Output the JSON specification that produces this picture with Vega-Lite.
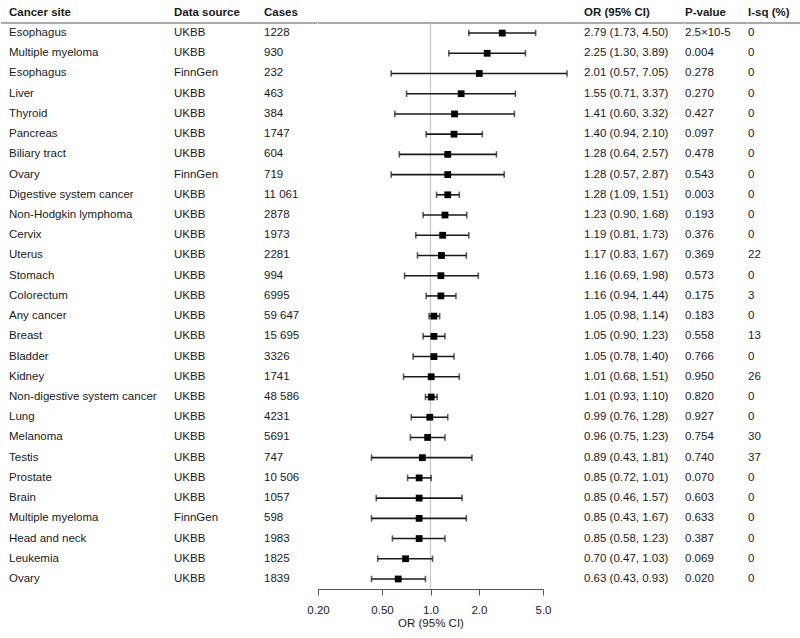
{
  "$schema": "https://vega.github.io/schema/vega-lite/v6.json",
  "padding": {"left": 0, "right": 0, "top": 0, "bottom": 0},
  "spacing": 0,
  "bounds": "flush",
  "config": {
    "view": {"stroke": null},
    "font": "Liberation Sans",
    "text": {"font": "Liberation Sans", "fontSize": 11.5, "color": "#1a1a1a"},
    "axis": {"labelFont": "Liberation Sans", "titleFont": "Liberation Sans"}
  },
  "datasets": {
    "rows": [
      {"row": 1, "site": "Esophagus", "source": "UKBB", "cases": "1228", "or": 2.79, "lo": 1.73, "hi": 4.50, "est": "2.79 (1.73, 4.50)", "pval": "2.5×10-5", "isq": 0},
      {"row": 2, "site": "Multiple myeloma", "source": "UKBB", "cases": "930", "or": 2.25, "lo": 1.30, "hi": 3.89, "est": "2.25 (1.30, 3.89)", "pval": "0.004", "isq": 0},
      {"row": 3, "site": "Esophagus", "source": "FinnGen", "cases": "232", "or": 2.01, "lo": 0.57, "hi": 7.05, "est": "2.01 (0.57, 7.05)", "pval": "0.278", "isq": 0},
      {"row": 4, "site": "Liver", "source": "UKBB", "cases": "463", "or": 1.55, "lo": 0.71, "hi": 3.37, "est": "1.55 (0.71, 3.37)", "pval": "0.270", "isq": 0},
      {"row": 5, "site": "Thyroid", "source": "UKBB", "cases": "384", "or": 1.41, "lo": 0.60, "hi": 3.32, "est": "1.41 (0.60, 3.32)", "pval": "0.427", "isq": 0},
      {"row": 6, "site": "Pancreas", "source": "UKBB", "cases": "1747", "or": 1.40, "lo": 0.94, "hi": 2.10, "est": "1.40 (0.94, 2.10)", "pval": "0.097", "isq": 0},
      {"row": 7, "site": "Biliary tract", "source": "UKBB", "cases": "604", "or": 1.28, "lo": 0.64, "hi": 2.57, "est": "1.28 (0.64, 2.57)", "pval": "0.478", "isq": 0},
      {"row": 8, "site": "Ovary", "source": "FinnGen", "cases": "719", "or": 1.28, "lo": 0.57, "hi": 2.87, "est": "1.28 (0.57, 2.87)", "pval": "0.543", "isq": 0},
      {"row": 9, "site": "Digestive system cancer", "source": "UKBB", "cases": "11 061", "or": 1.28, "lo": 1.09, "hi": 1.51, "est": "1.28 (1.09, 1.51)", "pval": "0.003", "isq": 0},
      {"row": 10, "site": "Non-Hodgkin lymphoma", "source": "UKBB", "cases": "2878", "or": 1.23, "lo": 0.90, "hi": 1.68, "est": "1.23 (0.90, 1.68)", "pval": "0.193", "isq": 0},
      {"row": 11, "site": "Cervix", "source": "UKBB", "cases": "1973", "or": 1.19, "lo": 0.81, "hi": 1.73, "est": "1.19 (0.81, 1.73)", "pval": "0.376", "isq": 0},
      {"row": 12, "site": "Uterus", "source": "UKBB", "cases": "2281", "or": 1.17, "lo": 0.83, "hi": 1.67, "est": "1.17 (0.83, 1.67)", "pval": "0.369", "isq": 22},
      {"row": 13, "site": "Stomach", "source": "UKBB", "cases": "994", "or": 1.16, "lo": 0.69, "hi": 1.98, "est": "1.16 (0.69, 1.98)", "pval": "0.573", "isq": 0},
      {"row": 14, "site": "Colorectum", "source": "UKBB", "cases": "6995", "or": 1.16, "lo": 0.94, "hi": 1.44, "est": "1.16 (0.94, 1.44)", "pval": "0.175", "isq": 3},
      {"row": 15, "site": "Any cancer", "source": "UKBB", "cases": "59 647", "or": 1.05, "lo": 0.98, "hi": 1.14, "est": "1.05 (0.98, 1.14)", "pval": "0.183", "isq": 0},
      {"row": 16, "site": "Breast", "source": "UKBB", "cases": "15 695", "or": 1.05, "lo": 0.90, "hi": 1.23, "est": "1.05 (0.90, 1.23)", "pval": "0.558", "isq": 13},
      {"row": 17, "site": "Bladder", "source": "UKBB", "cases": "3326", "or": 1.05, "lo": 0.78, "hi": 1.40, "est": "1.05 (0.78, 1.40)", "pval": "0.766", "isq": 0},
      {"row": 18, "site": "Kidney", "source": "UKBB", "cases": "1741", "or": 1.01, "lo": 0.68, "hi": 1.51, "est": "1.01 (0.68, 1.51)", "pval": "0.950", "isq": 26},
      {"row": 19, "site": "Non-digestive system cancer", "source": "UKBB", "cases": "48 586", "or": 1.01, "lo": 0.93, "hi": 1.10, "est": "1.01 (0.93, 1.10)", "pval": "0.820", "isq": 0},
      {"row": 20, "site": "Lung", "source": "UKBB", "cases": "4231", "or": 0.99, "lo": 0.76, "hi": 1.28, "est": "0.99 (0.76, 1.28)", "pval": "0.927", "isq": 0},
      {"row": 21, "site": "Melanoma", "source": "UKBB", "cases": "5691", "or": 0.96, "lo": 0.75, "hi": 1.23, "est": "0.96 (0.75, 1.23)", "pval": "0.754", "isq": 30},
      {"row": 22, "site": "Testis", "source": "UKBB", "cases": "747", "or": 0.89, "lo": 0.43, "hi": 1.81, "est": "0.89 (0.43, 1.81)", "pval": "0.740", "isq": 37},
      {"row": 23, "site": "Prostate", "source": "UKBB", "cases": "10 506", "or": 0.85, "lo": 0.72, "hi": 1.01, "est": "0.85 (0.72, 1.01)", "pval": "0.070", "isq": 0},
      {"row": 24, "site": "Brain", "source": "UKBB", "cases": "1057", "or": 0.85, "lo": 0.46, "hi": 1.57, "est": "0.85 (0.46, 1.57)", "pval": "0.603", "isq": 0},
      {"row": 25, "site": "Multiple myeloma", "source": "FinnGen", "cases": "598", "or": 0.85, "lo": 0.43, "hi": 1.67, "est": "0.85 (0.43, 1.67)", "pval": "0.633", "isq": 0},
      {"row": 26, "site": "Head and neck", "source": "UKBB", "cases": "1983", "or": 0.85, "lo": 0.58, "hi": 1.23, "est": "0.85 (0.58, 1.23)", "pval": "0.387", "isq": 0},
      {"row": 27, "site": "Leukemia", "source": "UKBB", "cases": "1825", "or": 0.70, "lo": 0.47, "hi": 1.03, "est": "0.70 (0.47, 1.03)", "pval": "0.069", "isq": 0},
      {"row": 28, "site": "Ovary", "source": "UKBB", "cases": "1839", "or": 0.63, "lo": 0.43, "hi": 0.93, "est": "0.63 (0.43, 0.93)", "pval": "0.020", "isq": 0}
    ]
  },
  "hconcat": [
    {
      "width": 8, "height": 589,
      "data": {"values": [{}]},
      "mark": {"type": "rule", "color": "#8c8c8c", "strokeWidth": 1.5},
      "encoding": {"y": {"datum": 0.5, "type": "quantitative", "scale": {"domain": [-0.635, 28.495], "reverse": true, "nice": false, "zero": false}, "axis": null}}
    },
    {
      "width": 165, "height": 589,
      "layer": [
        {"data": {"name": "rows"}, "mark": {"type": "text", "align": "left", "baseline": "middle"},
         "encoding": {"x": {"datum": 0, "type": "quantitative", "scale": {"domain": [0, 1]}, "axis": null},
                      "y": {"field": "row", "type": "quantitative", "scale": {"domain": [-0.635, 28.495], "reverse": true, "nice": false, "zero": false}, "axis": null},
                      "text": {"field": "site"}}},
        {"data": {"values": [{"h": "Cancer site"}]}, "layer": [
          {"mark": {"type": "rule", "color": "#8c8c8c", "strokeWidth": 1.5},
           "encoding": {"y": {"datum": 0.5, "type": "quantitative", "scale": {"domain": [-0.635, 28.495], "reverse": true, "nice": false, "zero": false}, "axis": null}}},
          {"mark": {"type": "text", "align": "left", "baseline": "middle", "fontWeight": "bold"},
           "encoding": {"x": {"datum": 0, "type": "quantitative", "scale": {"domain": [0, 1]}, "axis": null},
                        "y": {"datum": 0, "type": "quantitative", "scale": {"domain": [-0.635, 28.495], "reverse": true, "nice": false, "zero": false}, "axis": null},
                        "text": {"field": "h"}}}
        ]}
      ]
    },
    {
      "width": 90, "height": 589,
      "layer": [
        {"data": {"name": "rows"}, "mark": {"type": "text", "align": "left", "baseline": "middle"},
         "encoding": {"x": {"datum": 0, "type": "quantitative", "scale": {"domain": [0, 1]}, "axis": null},
                      "y": {"field": "row", "type": "quantitative", "scale": {"domain": [-0.635, 28.495], "reverse": true, "nice": false, "zero": false}, "axis": null},
                      "text": {"field": "source"}}},
        {"data": {"values": [{"h": "Data source"}]}, "layer": [
          {"mark": {"type": "rule", "color": "#8c8c8c", "strokeWidth": 1.5},
           "encoding": {"y": {"datum": 0.5, "type": "quantitative", "scale": {"domain": [-0.635, 28.495], "reverse": true, "nice": false, "zero": false}, "axis": null}}},
          {"mark": {"type": "text", "align": "left", "baseline": "middle", "fontWeight": "bold"},
           "encoding": {"x": {"datum": 0, "type": "quantitative", "scale": {"domain": [0, 1]}, "axis": null},
                        "y": {"datum": 0, "type": "quantitative", "scale": {"domain": [-0.635, 28.495], "reverse": true, "nice": false, "zero": false}, "axis": null},
                        "text": {"field": "h"}}}
        ]}
      ]
    },
    {
      "width": 53.4, "height": 589,
      "layer": [
        {"data": {"name": "rows"}, "mark": {"type": "text", "align": "left", "baseline": "middle"},
         "encoding": {"x": {"datum": 0, "type": "quantitative", "scale": {"domain": [0, 1]}, "axis": null},
                      "y": {"field": "row", "type": "quantitative", "scale": {"domain": [-0.635, 28.495], "reverse": true, "nice": false, "zero": false}, "axis": null},
                      "text": {"field": "cases"}}},
        {"data": {"values": [{"h": "Cases"}]}, "layer": [
          {"mark": {"type": "rule", "color": "#8c8c8c", "strokeWidth": 1.5},
           "encoding": {"y": {"datum": 0.5, "type": "quantitative", "scale": {"domain": [-0.635, 28.495], "reverse": true, "nice": false, "zero": false}, "axis": null}}},
          {"mark": {"type": "text", "align": "left", "baseline": "middle", "fontWeight": "bold"},
           "encoding": {"x": {"datum": 0, "type": "quantitative", "scale": {"domain": [0, 1]}, "axis": null},
                        "y": {"datum": 0, "type": "quantitative", "scale": {"domain": [-0.635, 28.495], "reverse": true, "nice": false, "zero": false}, "axis": null},
                        "text": {"field": "h"}}}
        ]}
      ]
    },
    {
      "width": 225, "height": 589,
      "layer": [
        {"data": {"values": [{}]}, "mark": {"type": "rule", "color": "#8c8c8c", "strokeWidth": 1.5},
         "encoding": {"y": {"datum": 0.5, "type": "quantitative", "scale": {"domain": [-0.635, 28.495], "reverse": true, "nice": false, "zero": false}, "axis": null}}},
        {"data": {"values": [{}]}, "mark": {"type": "rule", "color": "#c8c8c8", "strokeWidth": 1.2},
         "encoding": {
           "x": {"datum": 1, "type": "quantitative", "scale": {"type": "log", "domain": [0.2, 5], "nice": false},
                 "axis": {"values": [0.2, 0.5, 1, 2, 5], "labelExpr": "datum.value < 1 ? format(datum.value, '.2f') : format(datum.value, '.1f')", "title": "OR (95% CI)", "grid": false, "domainColor": "#555555", "tickColor": "#555555", "tickSize": 6, "labelPadding": 9, "labelFontSize": 11.5, "labelColor": "#1a1a1a", "titleFontSize": 11.5, "titleFontWeight": "normal", "titleColor": "#1a1a1a", "titlePadding": 2, "labelFlush": false}},
           "y": {"datum": 0.5, "type": "quantitative", "scale": {"domain": [-0.635, 28.495], "reverse": true, "nice": false, "zero": false}, "axis": null},
           "y2": {"datum": 28.495}}},
        {"data": {"name": "rows"}, "mark": {"type": "rule", "color": "#1a1a1a", "strokeWidth": 1.6},
         "encoding": {
           "x": {"field": "lo", "type": "quantitative", "scale": {"type": "log", "domain": [0.2, 5], "nice": false},
                 "axis": {"values": [0.2, 0.5, 1, 2, 5], "labelExpr": "datum.value < 1 ? format(datum.value, '.2f') : format(datum.value, '.1f')", "title": "OR (95% CI)", "grid": false, "domainColor": "#555555", "tickColor": "#555555", "tickSize": 6, "labelPadding": 9, "labelFontSize": 11.5, "labelColor": "#1a1a1a", "titleFontSize": 11.5, "titleFontWeight": "normal", "titleColor": "#1a1a1a", "titlePadding": 2, "labelFlush": false}},
           "x2": {"field": "hi"},
           "y": {"field": "row", "type": "quantitative", "scale": {"domain": [-0.635, 28.495], "reverse": true, "nice": false, "zero": false}, "axis": null}}},
        {"data": {"name": "rows"}, "mark": {"type": "tick", "orient": "vertical", "color": "#1a1a1a", "size": 6.5, "thickness": 1.6},
         "encoding": {
           "x": {"field": "lo", "type": "quantitative", "scale": {"type": "log", "domain": [0.2, 5], "nice": false},
                 "axis": {"values": [0.2, 0.5, 1, 2, 5], "labelExpr": "datum.value < 1 ? format(datum.value, '.2f') : format(datum.value, '.1f')", "title": "OR (95% CI)", "grid": false, "domainColor": "#555555", "tickColor": "#555555", "tickSize": 6, "labelPadding": 9, "labelFontSize": 11.5, "labelColor": "#1a1a1a", "titleFontSize": 11.5, "titleFontWeight": "normal", "titleColor": "#1a1a1a", "titlePadding": 2, "labelFlush": false}},
           "y": {"field": "row", "type": "quantitative", "scale": {"domain": [-0.635, 28.495], "reverse": true, "nice": false, "zero": false}, "axis": null}}},
        {"data": {"name": "rows"}, "mark": {"type": "tick", "orient": "vertical", "color": "#1a1a1a", "size": 6.5, "thickness": 1.6},
         "encoding": {
           "x": {"field": "hi", "type": "quantitative", "scale": {"type": "log", "domain": [0.2, 5], "nice": false},
                 "axis": {"values": [0.2, 0.5, 1, 2, 5], "labelExpr": "datum.value < 1 ? format(datum.value, '.2f') : format(datum.value, '.1f')", "title": "OR (95% CI)", "grid": false, "domainColor": "#555555", "tickColor": "#555555", "tickSize": 6, "labelPadding": 9, "labelFontSize": 11.5, "labelColor": "#1a1a1a", "titleFontSize": 11.5, "titleFontWeight": "normal", "titleColor": "#1a1a1a", "titlePadding": 2, "labelFlush": false}},
           "y": {"field": "row", "type": "quantitative", "scale": {"domain": [-0.635, 28.495], "reverse": true, "nice": false, "zero": false}, "axis": null}}},
        {"data": {"name": "rows"}, "mark": {"type": "square", "color": "#000000", "filled": true, "opacity": 1, "size": 46},
         "encoding": {
           "x": {"field": "or", "type": "quantitative", "scale": {"type": "log", "domain": [0.2, 5], "nice": false},
                 "axis": {"values": [0.2, 0.5, 1, 2, 5], "labelExpr": "datum.value < 1 ? format(datum.value, '.2f') : format(datum.value, '.1f')", "title": "OR (95% CI)", "grid": false, "domainColor": "#555555", "tickColor": "#555555", "tickSize": 6, "labelPadding": 9, "labelFontSize": 11.5, "labelColor": "#1a1a1a", "titleFontSize": 11.5, "titleFontWeight": "normal", "titleColor": "#1a1a1a", "titlePadding": 2, "labelFlush": false}},
           "y": {"field": "row", "type": "quantitative", "scale": {"domain": [-0.635, 28.495], "reverse": true, "nice": false, "zero": false}, "axis": null}}}
      ]
    },
    {
      "width": 41, "height": 589,
      "data": {"values": [{}]},
      "mark": {"type": "rule", "color": "#8c8c8c", "strokeWidth": 1.5},
      "encoding": {"y": {"datum": 0.5, "type": "quantitative", "scale": {"domain": [-0.635, 28.495], "reverse": true, "nice": false, "zero": false}, "axis": null}}
    },
    {
      "width": 100.6, "height": 589,
      "layer": [
        {"data": {"name": "rows"}, "mark": {"type": "text", "align": "left", "baseline": "middle"},
         "encoding": {"x": {"datum": 0, "type": "quantitative", "scale": {"domain": [0, 1]}, "axis": null},
                      "y": {"field": "row", "type": "quantitative", "scale": {"domain": [-0.635, 28.495], "reverse": true, "nice": false, "zero": false}, "axis": null},
                      "text": {"field": "est"}}},
        {"data": {"values": [{"h": "OR (95% CI)"}]}, "layer": [
          {"mark": {"type": "rule", "color": "#8c8c8c", "strokeWidth": 1.5},
           "encoding": {"y": {"datum": 0.5, "type": "quantitative", "scale": {"domain": [-0.635, 28.495], "reverse": true, "nice": false, "zero": false}, "axis": null}}},
          {"mark": {"type": "text", "align": "left", "baseline": "middle", "fontWeight": "bold"},
           "encoding": {"x": {"datum": 0, "type": "quantitative", "scale": {"domain": [0, 1]}, "axis": null},
                        "y": {"datum": 0, "type": "quantitative", "scale": {"domain": [-0.635, 28.495], "reverse": true, "nice": false, "zero": false}, "axis": null},
                        "text": {"field": "h"}}}
        ]}
      ]
    },
    {
      "width": 62.7, "height": 589,
      "layer": [
        {"data": {"name": "rows"}, "mark": {"type": "text", "align": "left", "baseline": "middle"},
         "encoding": {"x": {"datum": 0, "type": "quantitative", "scale": {"domain": [0, 1]}, "axis": null},
                      "y": {"field": "row", "type": "quantitative", "scale": {"domain": [-0.635, 28.495], "reverse": true, "nice": false, "zero": false}, "axis": null},
                      "text": {"field": "pval"}}},
        {"data": {"values": [{"h": "P-value"}]}, "layer": [
          {"mark": {"type": "rule", "color": "#8c8c8c", "strokeWidth": 1.5},
           "encoding": {"y": {"datum": 0.5, "type": "quantitative", "scale": {"domain": [-0.635, 28.495], "reverse": true, "nice": false, "zero": false}, "axis": null}}},
          {"mark": {"type": "text", "align": "left", "baseline": "middle", "fontWeight": "bold"},
           "encoding": {"x": {"datum": 0, "type": "quantitative", "scale": {"domain": [0, 1]}, "axis": null},
                        "y": {"datum": 0, "type": "quantitative", "scale": {"domain": [-0.635, 28.495], "reverse": true, "nice": false, "zero": false}, "axis": null},
                        "text": {"field": "h"}}}
        ]}
      ]
    },
    {
      "width": 54, "height": 589,
      "layer": [
        {"data": {"name": "rows"}, "mark": {"type": "text", "align": "left", "baseline": "middle"},
         "encoding": {"x": {"datum": 0, "type": "quantitative", "scale": {"domain": [0, 1]}, "axis": null},
                      "y": {"field": "row", "type": "quantitative", "scale": {"domain": [-0.635, 28.495], "reverse": true, "nice": false, "zero": false}, "axis": null},
                      "text": {"field": "isq"}}},
        {"data": {"values": [{"h": "I-sq (%)"}]}, "layer": [
          {"mark": {"type": "rule", "color": "#8c8c8c", "strokeWidth": 1.5},
           "encoding": {"y": {"datum": 0.5, "type": "quantitative", "scale": {"domain": [-0.635, 28.495], "reverse": true, "nice": false, "zero": false}, "axis": null}}},
          {"mark": {"type": "text", "align": "left", "baseline": "middle", "fontWeight": "bold"},
           "encoding": {"x": {"datum": 0, "type": "quantitative", "scale": {"domain": [0, 1]}, "axis": null},
                        "y": {"datum": 0, "type": "quantitative", "scale": {"domain": [-0.635, 28.495], "reverse": true, "nice": false, "zero": false}, "axis": null},
                        "text": {"field": "h"}}}
        ]}
      ]
    }
  ]
}
